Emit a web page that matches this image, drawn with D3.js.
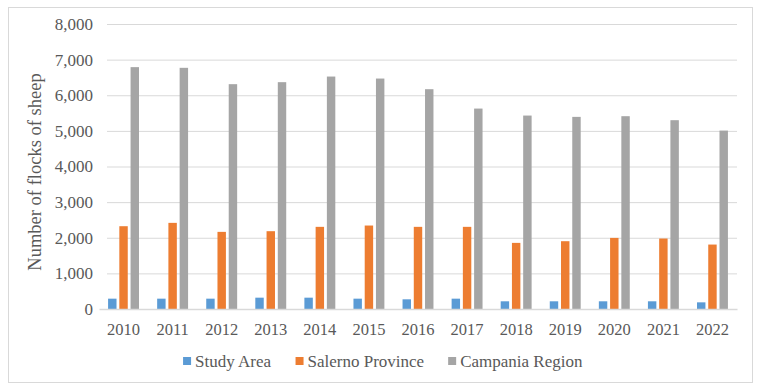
<!DOCTYPE html>
<html>
<head>
<meta charset="utf-8">
<script src="https://cdn.jsdelivr.net/npm/d3@7"></script>
<style>
  html, body { margin: 0; padding: 0; background: #fff; }
  svg { display: block; }
</style>
</head>
<body>
<svg id="chart" width="760" height="389"></svg>
<script>
const years = ["2010","2011","2012","2013","2014","2015","2016","2017","2018","2019","2020","2021","2022"];
const seriesNames = ["Study Area", "Salerno Province", "Campania Region"];
const studyArea = [290, 290, 290, 318, 318, 290, 272, 290, 216, 216, 216, 216, 187];
const salernoProvince = [2324, 2418, 2165, 2184, 2306, 2343, 2306, 2306, 1856, 1903, 1996, 1978, 1809];
const campaniaRegion = [6789, 6770, 6311, 6367, 6525, 6469, 6170, 5626, 5430, 5393, 5412, 5300, 5008];
const yTicks = [0, 1000, 2000, 3000, 4000, 5000, 6000, 7000, 8000];
const colors = ["#5B9BD5", "#ED7D31", "#A5A5A5"];
const yTitle = "Number of flocks of sheep";

const seriesValues = [studyArea, salernoProvince, campaniaRegion];
const FONT = '"Liberation Serif", "Times New Roman", serif';
const TXT = "#595959";

const svg = d3.select("#chart");
const plot = { left: 99, right: 737, top: 24, bottom: 309 };

// frame
svg.append("rect")
  .attr("x", 8.5).attr("y", 7.5)
  .attr("width", 744).attr("height", 375)
  .attr("fill", "#fff").attr("stroke", "#D9D9D9").attr("stroke-width", 1);

const x0 = d3.scaleBand().domain(years).range([plot.left, plot.right])
  .paddingInner(0.37).paddingOuter(0.185);
const x1 = d3.scaleBand().domain(seriesNames).range([0, x0.bandwidth()])
  .paddingInner(0.25).paddingOuter(0);
const y = d3.scaleLinear().domain([0, 8000]).range([plot.bottom, plot.top]);

// gridlines + y labels
const yAxis = d3.axisLeft(y).tickValues(yTicks)
  .tickSize(-(plot.right - plot.left - 8)).tickPadding(6)
  .tickFormat(d3.format(","));
const gy = svg.append("g").attr("transform", `translate(${plot.left + 8},0)`).call(yAxis)
  .attr("font-family", null).attr("font-size", null);
gy.select(".domain").remove();
gy.selectAll(".tick line").attr("stroke", "#D9D9D9").attr("stroke-width", 1)
  .filter(d => d === 0).remove();
gy.selectAll(".tick text")
  .attr("x", -14)
  .attr("fill", TXT)
  .style("font-family", FONT).style("font-size", "17px");

// bars
const groups = svg.append("g").selectAll("g")
  .data(years).join("g")
  .attr("transform", d => `translate(${x0(d)},0)`);
groups.selectAll("rect")
  .data((yr, i) => seriesNames.map((s, k) => ({ s, k, v: seriesValues[k][i] })))
  .join("rect")
  .attr("x", d => x1(d.s))
  .attr("width", x1.bandwidth())
  .attr("y", d => y(d.v))
  .attr("height", d => y(0) - y(d.v))
  .attr("fill", d => colors[d.k]);

// baseline + x axis
const xAxis = d3.axisBottom(x0).tickSize(0).tickPadding(14);
const gx = svg.append("g").attr("transform", `translate(0,${plot.bottom})`).call(xAxis)
  .attr("font-family", null).attr("font-size", null);
gx.select(".domain").attr("stroke", "#D9D9D9").attr("stroke-width", 1.5);
gx.selectAll(".tick text")
  .attr("fill", TXT)
  .style("font-family", FONT).style("font-size", "16.5px");

// y title
svg.append("text")
  .attr("transform", `translate(41,172) rotate(-90)`)
  .attr("text-anchor", "middle")
  .attr("fill", TXT)
  .style("font-family", FONT).style("font-size", "18.5px")
  .text(yTitle);

// legend
const legend = svg.append("g");
const items = legend.selectAll("g").data(seriesNames).join("g");
items.append("rect").attr("width", 8).attr("height", 8).attr("y", 357)
  .attr("fill", (d, i) => colors[i]);
items.append("text").attr("x", 12).attr("y", 366.5)
  .attr("fill", TXT)
  .style("font-family", FONT).style("font-size", "17px")
  .text(d => d);
let widths = [];
items.each(function() { widths.push(this.getBBox().width); });
const gap = 24;
const total = d3.sum(widths) + gap * (widths.length - 1);
let cx = 383 - total / 2;
items.each(function(d, i) {
  d3.select(this).attr("transform", `translate(${cx},0)`);
  cx += widths[i] + gap;
});
</script>
</body>
</html>
